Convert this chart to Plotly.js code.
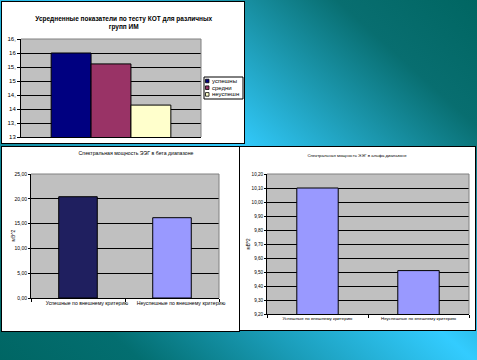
<!DOCTYPE html>
<html><head><meta charset="utf-8">
<script src="https://cdn.plot.ly/plotly-3.0.1.min.js"></script>
<style>
html,body{margin:0;padding:0;width:477px;height:360px;overflow:hidden;}
body{position:relative;background:linear-gradient(42deg,#006664 0%,#036e70 16%,#1a9cb8 34%,#33ccff 54%,#1d9ab2 70%,#086e70 84%,#006662 100%);}
.panel{position:absolute;border:1px solid #000;background:#fff;}
#c1{left:1px;top:1px;width:242px;height:141px;}
#c2{left:1px;top:146px;width:237px;height:184px;}
#c3{left:239px;top:146px;width:235px;height:183px;}
</style></head>
<body>
<div id="c1" class="panel"></div>
<div id="c2" class="panel"></div>
<div id="c3" class="panel"></div>
<script>
// ---- data ----
const kotTitle = "Усредненные показатели по тесту КОТ для различных<br>групп ИМ";
const kotGroups = ["успешны", "средни", "неуспешн"];
const kotValues = [16.0, 15.61, 14.14];
const kotTickVals = [13, 13.5, 14, 14.5, 15, 15.5, 16, 16.5];
const kotTickText = ["13", "13,", "14", "14,", "15", "15,", "16", "16,"];

const eegCategories = ["Успешные по внешнему критерию", "Неуспешные по внешнему критерию"];
const betaTitle = "Спектральная мощность ЭЭГ в бета диапазоне";
const betaValues = [20.42, 16.19];
const alphaTitle = "Спектральная мощность ЭЭГ в альфа диапазоне";
const alphaValues = [10.10, 9.51];
const powerUnit = "мВ^2";

// ---- styles ----
const kotColors = ["#000080", "#993366", "#ffffcc"];
const betaColors = ["#1f1f5f", "#9999ff"];
const alphaColors = ["#9999ff", "#9999ff"];
const FONT = "Liberation Sans, Arial, sans-serif";
const cfg = {staticPlot: true, displayModeBar: false};
const borderPath = {type: "path", xref: "paper", yref: "paper", path: "M0,1 L1,1 L1,0",
  line: {color: "#808080", width: 1}, layer: "above"};

// ---- chart 1 ----
(function () {
  const W = 242, H = 141, L = 19, R = 43, T = 37, B = 6;
  const pw = W - L - R, ph = H - T - B;
  const traces = kotGroups.map((g, i) => ({
    type: "bar", name: g, x: ["КОТ"], y: [kotValues[i]],
    marker: {color: kotColors[i], line: {color: "#000", width: 1}}
  }));
  // manual legend
  const shapes = [borderPath];
  const annotations = [];
  const px = v => (v - L) / pw, py = v => 1 - (v - T) / ph;
  shapes.push({type: "rect", xref: "paper", yref: "paper", x0: px(202), x1: px(241), y0: py(97), y1: py(75),
    line: {color: "#000", width: 1}, fillcolor: "#fff", layer: "above"});
  kotGroups.forEach((g, i) => {
    const cy = 79 + i * 6.7;
    shapes.push({type: "rect", xref: "paper", yref: "paper", x0: px(203.5), x1: px(207), y0: py(cy + 1.8), y1: py(cy - 1.8),
      line: {color: "#000", width: 0.8}, fillcolor: kotColors[i], layer: "above"});
    annotations.push({xref: "paper", yref: "paper", x: px(207.8), y: py(cy), xanchor: "left", yanchor: "middle",
      text: g, showarrow: false, font: {family: FONT, size: 6, color: "#000"}});
  });
  Plotly.newPlot("c1", traces, {
    width: W, height: H, margin: {l: L, r: R, t: T, b: B, pad: 0},
    paper_bgcolor: "#fff", plot_bgcolor: "#c0c0c0", showlegend: false,
    barmode: "group", bargap: 0.335, bargroupgap: 0,
    font: {family: FONT, size: 6, color: "#000"},
    title: {text: kotTitle, x: 0.503, xref: "container", xanchor: "center", y: 1 - 19 / H, yref: "container", yanchor: "middle",
      font: {family: FONT, size: 6.5, weight: "bold", color: "#000"}},
    xaxis: {type: "category", showticklabels: false, ticks: "", showline: true, linecolor: "#000", linewidth: 1, showgrid: false, fixedrange: true},
    yaxis: {range: [13, 16.5], tickvals: kotTickVals, ticktext: kotTickText, ticks: "outside", ticklen: 3, tickcolor: "#000",
      showline: true, linecolor: "#000", linewidth: 1, showgrid: true, gridcolor: "#000", gridwidth: 1, zeroline: false,
      tickfont: {family: FONT, size: 6, color: "#000"}},
    shapes: shapes, annotations: annotations
  }, cfg);
})();

// ---- chart 2 / chart 3 ----
function eegChart(id, W, H, L, R, T, B, title, titleX, titleY, titleSize, values, colors, range, dtick, tickSize, labelSize, labelShift, unitX) {
  Plotly.newPlot(id, [{
    type: "bar", x: eegCategories, y: values,
    marker: {color: colors, line: {color: "#000", width: 1}}
  }], {
    width: W, height: H, margin: {l: L, r: R, t: T, b: B, pad: 0},
    paper_bgcolor: "#fff", plot_bgcolor: "#c0c0c0", showlegend: false,
    bargap: 0.59, separators: ", ",
    font: {family: FONT, size: tickSize, color: "#000"},
    title: {text: title, x: titleX, xref: "container", xanchor: "center", y: titleY, yref: "container", yanchor: "middle",
      font: {family: FONT, size: titleSize, color: "#000"}},
    xaxis: {type: "category", ticks: "outside", tickson: "boundaries", ticklen: 3, tickcolor: "#000", tickangle: 0,
      showline: true, linecolor: "#000", linewidth: 1, showgrid: false, ticklabelshift: labelShift,
      tickfont: {family: FONT, size: labelSize, color: "#000"}},
    yaxis: {range: range, dtick: dtick, tick0: range[0], tickformat: ".2f", ticks: "outside", ticklen: 2, tickcolor: "#000",
      showline: true, linecolor: "#000", linewidth: 1, showgrid: true, gridcolor: "#000", gridwidth: 1, zeroline: false,
      tickfont: {family: FONT, size: tickSize, color: "#000"}},
    shapes: [borderPath],
    annotations: [{xref: "paper", yref: "paper", x: (unitX - L) / (W - L - R), y: 0.5, xanchor: "center", yanchor: "middle",
      text: powerUnit, textangle: -90, showarrow: false, font: {family: FONT, size: tickSize, color: "#000"}}]
  }, cfg);
}
eegChart("c2", 237, 184, 29, 20, 27, 33, betaTitle, 134 / 237, 1 - 6 / 184, 5.2, betaValues, betaColors, [0, 25], 5, 5, 5.2, 9, 10.5);
eegChart("c3", 235, 183, 27, 6, 27, 16, alphaTitle, 117 / 235, 1 - 8 / 183, 4.3, alphaValues, alphaColors, [9.2, 10.2], 0.1, 4.6, 4.4, 0, 7.5);
</script>
</body></html>
